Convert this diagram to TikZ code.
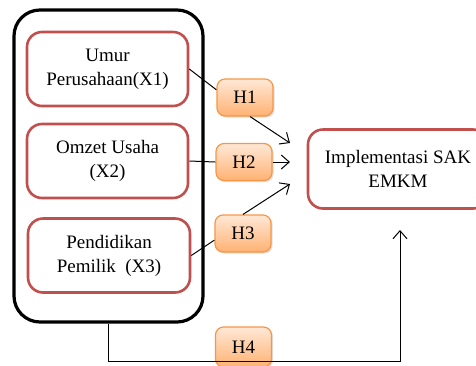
\documentclass[tikz,border=0pt]{standalone}
\usepackage{fontspec}
\setmainfont{Liberation Serif}
\usetikzlibrary{arrows.meta,shadows}
\definecolor{merah}{RGB}{192,80,77}
\definecolor{jingga}{RGB}{247,150,70}
\definecolor{jinggaatas}{RGB}{255,232,214}
\definecolor{jinggabawah}{RGB}{255,178,115}
\begin{document}
\begin{tikzpicture}[x=0.5pt,y=-0.5pt,
  var_node/.style={rectangle,draw=merah,line width=1.3pt,rounded corners=7.5pt,fill=white,
    minimum width=80.5pt,minimum height=37pt,align=center,inner sep=1pt,
    font=\fontsize{9.5}{12}\selectfont},
  hip_node/.style={rectangle,draw=jingga,line width=0.6pt,rounded corners=4pt,
    top color=jinggaatas,bottom color=jinggabawah,
    drop shadow={shadow xshift=0.8pt,shadow yshift=-0.8pt,opacity=0.25},
    minimum width=28pt,minimum height=18.5pt,inner sep=0pt,
    font=\fontsize{9.5}{12}\selectfont},
  panah/.style={-{Straight Barb[length=4pt,width=7pt]},line width=0.5pt}]
  \clip (0,0) rectangle (476,365);

  \node[rectangle,draw,line width=1.6pt,rounded corners=13pt,
    minimum width=94.5pt,minimum height=156pt] (grup) at (108.5,166) {};

  \node[var_node] (x1) at (107.5,69) {Umur\\Perusahaan(X1)};
  \node[var_node] (x2) at (107.5,161) {Omzet Usaha\\(X2)};
  \node[var_node,minimum width=81pt] (x3) at (109,255.5) {Pendidikan\\Pemilik~ (X3)};

  \node[hip_node] (h1) at (245,97.5) {H1};
  \node[hip_node] (h2) at (244,162) {H2};
  \node[hip_node] (h3) at (243,233.5) {H3};
  \node[hip_node,minimum height=20pt] (h4) at (243.5,347) {H4};

  \node[var_node,minimum width=90pt,minimum height=39.5pt] (y) at (398,169)
    {Implementasi SAK\\EMKM};

  \coordinate (in1) at (290,143);
  \coordinate (in2) at (290,162);
  \coordinate (in3) at (290,184);
  \coordinate (b4) at (400,361);
  \coordinate (in4) at (400,230);

  \draw[line width=0.5pt] (x1.east) -- (h1.165);
  \draw[line width=0.5pt] (x2.east) -- (h2.west);
  \draw[line width=0.5pt] (x3.east) -- (h3.193);

  \draw[panah] (h1.-75) -- (in1);
  \draw[panah] (h2.east) -- (in2);
  \draw[panah] (h3.north) -- (in3);
  \draw[panah] (grup.south) |- (b4) -- (in4);
\end{tikzpicture}
\end{document}
